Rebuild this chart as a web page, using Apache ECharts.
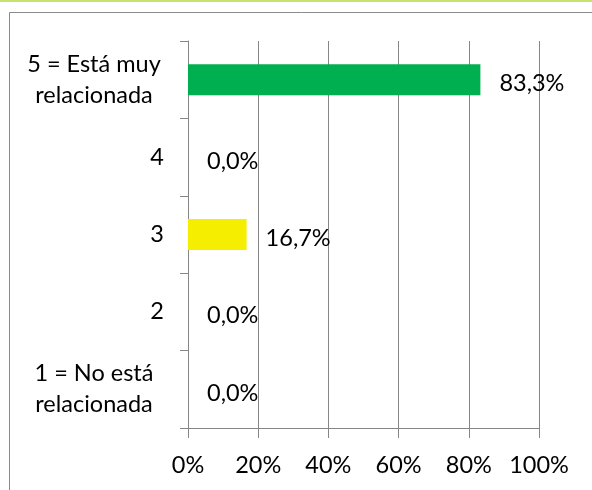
<!DOCTYPE html>
<html><head><meta charset="utf-8">
<script src="https://cdn.jsdelivr.net/npm/echarts@6/dist/echarts.min.js"></script>
<style>html,body{margin:0;padding:0;background:#fff}#c{width:592px;height:490px}</style>
</head><body><div id="c"></div>
<script>
const categories = ['1 = No está\nrelacionada', '2', '3', '4', '5 = Está muy\nrelacionada'];
const values = [0, 0, 16.7, 0, 83.3];
const barColors = ['#00b050', '#00b050', '#f5ee00', '#00b050', '#00b050'];
const xTicks = [0, 20, 40, 60, 80, 100];

const FONT = 'Lato';
const FS = 23.5;
const chart = echarts.init(document.getElementById('c'), null, {renderer: 'canvas'});
chart.setOption({
  animation: false,
  textStyle: {fontFamily: FONT},
  graphic: [
    {type: 'rect', shape: {x: 0, y: 0, width: 592, height: 2}, style: {fill: '#c9e26c'}, silent: true},
    {type: 'rect', shape: {x: 9.5, y: 12.5, width: 700, height: 600}, style: {fill: 'none', stroke: '#8a8a8a', lineWidth: 1}, silent: true}
  ],
  grid: {left: 188, right: 53, top: 41, bottom: 62, containLabel: false},
  xAxis: {
    type: 'value', min: xTicks[0], max: xTicks[xTicks.length - 1], interval: 20,
    axisLine: {show: true, lineStyle: {color: '#868686', width: 1}},
    axisTick: {show: true, length: 10, lineStyle: {color: '#868686'}},
    splitLine: {show: true, lineStyle: {color: '#868686', width: 1}},
    axisLabel: {formatter: '{value}%', color: '#000', fontSize: FS, fontFamily: FONT, margin: 25}
  },
  yAxis: {
    type: 'category', data: categories,
    axisLine: {show: true, lineStyle: {color: '#868686', width: 1}},
    axisTick: {show: true, length: 8, lineStyle: {color: '#868686'}},
    axisLabel: {
      color: '#000', fontSize: FS, fontFamily: FONT, margin: 24, align: 'right',
      formatter: function (v) { return v.indexOf('\n') >= 0 ? '{w|' + v + '}' : v; },
      rich: {w: {width: 140, align: 'center', fontSize: FS, fontFamily: FONT, lineHeight: 31, color: '#000'}}
    }
  },
  series: [{
    type: 'bar', barWidth: 31,
    data: values.map((v, i) => ({value: v, itemStyle: {color: barColors[i]}})),
    label: {
      show: true, position: 'right', distance: 19, offset: [0, 4],
      color: '#000', fontSize: FS, fontFamily: FONT,
      formatter: p => p.value.toFixed(1).replace('.', ',') + '%'
    }
  }]
});
</script></body></html>
